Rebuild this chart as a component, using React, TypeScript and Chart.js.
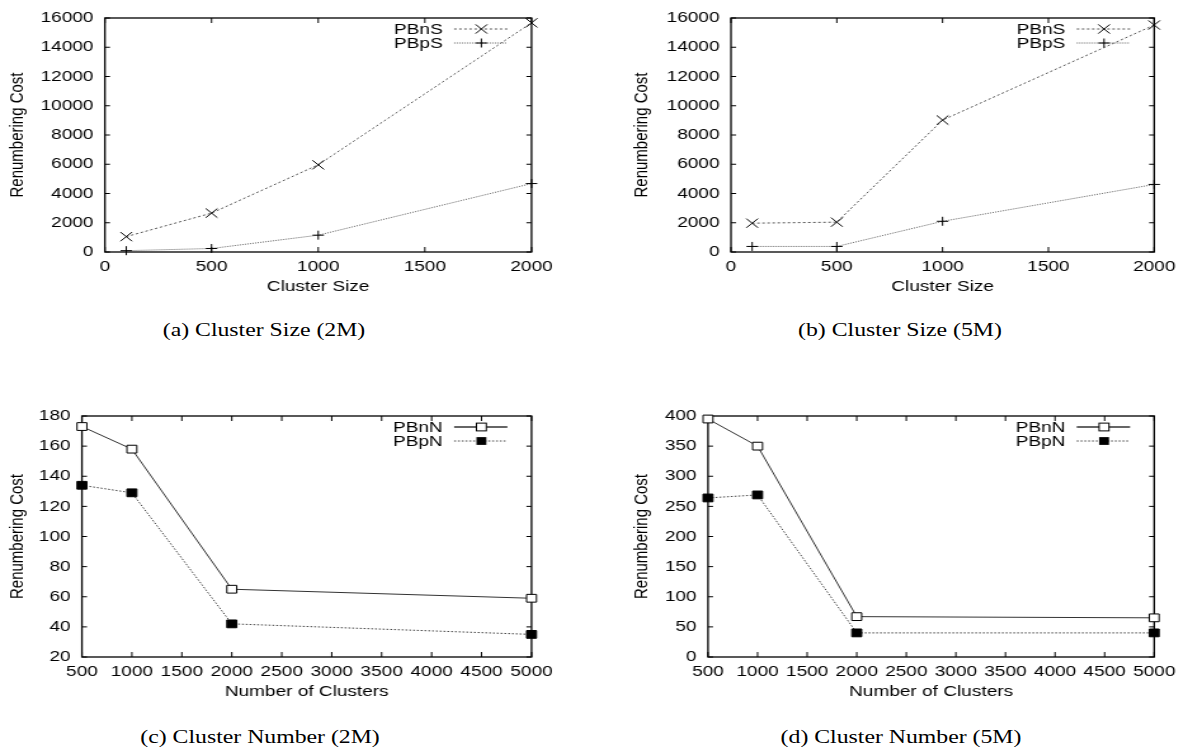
import React, { useEffect, useRef } from "react";
import { Chart, registerables } from "chart.js";

Chart.register(...registerables);

const S = 1.27; // horizontal stretch of the figure
const FONT = "'Liberation Sans', Arial, Helvetica, sans-serif";
const SERIF = "'Liberation Serif', 'Times New Roman', serif";
const FS = 15;

// ---- data ----
const clusterSizes = [100, 500, 1000, 2000];
const pbnS2M = [1050, 2660, 5960, 15670];
const pbpS2M = [90, 240, 1150, 4680];
const pbnS5M = [1970, 2040, 9020, 15520];
const pbpS5M = [380, 380, 2100, 4620];

const clusterNumbers = [500, 1000, 2000, 5000];
const pbnN2M = [173, 158, 65, 59];
const pbpN2M = [134, 129, 42, 35];
const pbnN5M = [395, 350, 67, 65];
const pbpN5M = [264, 269, 40, 40];

const captions = ["(a) Cluster Size (2M)", "(b) Cluster Size (5M)", "(c) Cluster Number (2M)", "(d) Cluster Number (5M)"];

type Marker = "cross" | "crossRot" | "rectOpen" | "rectFilled";
interface Series { label: string; values: number[]; color: string; dash: number[]; marker: Marker; radius: number; width: number; }
interface Panel {
  left: number; top: number; width: number; height: number;
  plotLeft: number; plotRight: number; plotTop: number; plotBottom: number;
  xTitleY: number; yTitleX: number;
  xs: number[]; series: Series[];
  xMin: number; xMax: number; xStep: number; yMin: number; yMax: number; yStep: number;
  xTitle: string; yTitle: string;
}

const sizeSeries = (n: number[], p: number[]): Series[] => [
  { label: "PBnS", values: n, color: "#555", dash: [2, 2], marker: "crossRot", radius: 6.5, width: 1 },
  { label: "PBpS", values: p, color: "#666", dash: [1, 1], marker: "cross", radius: 4.5, width: 1 },
];
const numSeries = (n: number[], p: number[]): Series[] => [
  { label: "PBnN", values: n, color: "#333", dash: [], marker: "rectOpen", radius: 5.5, width: 1 },
  { label: "PBpN", values: p, color: "#444", dash: [1.5, 1.5], marker: "rectFilled", radius: 5.5, width: 1 },
];

const panels: Panel[] = [
  { left: 0, top: 0, width: 590, height: 305, plotLeft: 105, plotRight: 532, plotTop: 10, plotBottom: 252, xTitleY: 287, yTitleX: 17,
    xs: clusterSizes, series: sizeSeries(pbnS2M, pbpS2M), xMin: 0, xMax: 2000, xStep: 500, yMin: 0, yMax: 16000, yStep: 2000,
    xTitle: "Cluster Size", yTitle: "Renumbering Cost" },
  { left: 590, top: 0, width: 593, height: 305, plotLeft: 731, plotRight: 1157, plotTop: 10, plotBottom: 252, xTitleY: 287, yTitleX: 642,
    xs: clusterSizes, series: sizeSeries(pbnS5M, pbpS5M), xMin: 0, xMax: 2000, xStep: 500, yMin: 0, yMax: 16000, yStep: 2000,
    xTitle: "Cluster Size", yTitle: "Renumbering Cost" },
  { left: 0, top: 395, width: 590, height: 310, plotLeft: 82, plotRight: 532, plotTop: 416, plotBottom: 657, xTitleY: 692, yTitleX: 17,
    xs: clusterNumbers, series: numSeries(pbnN2M, pbpN2M), xMin: 500, xMax: 5000, xStep: 500, yMin: 20, yMax: 180, yStep: 20,
    xTitle: "Number of Clusters", yTitle: "Renumbering Cost" },
  { left: 590, top: 395, width: 593, height: 310, plotLeft: 708, plotRight: 1157, plotTop: 416, plotBottom: 657, xTitleY: 692, yTitleX: 642,
    xs: clusterNumbers, series: numSeries(pbnN5M, pbpN5M), xMin: 500, xMax: 5000, xStep: 500, yMin: 0, yMax: 400, yStep: 50,
    xTitle: "Number of Clusters", yTitle: "Renumbering Cost" },
];

function drawMarker(ctx: CanvasRenderingContext2D, m: Marker, x: number, y: number, r: number) {
  ctx.save();
  ctx.setLineDash([]);
  ctx.strokeStyle = "#000";
  ctx.lineWidth = 1;
  if (m === "cross") {
    ctx.beginPath(); ctx.moveTo(x - r, y); ctx.lineTo(x + r, y); ctx.moveTo(x, y - r); ctx.lineTo(x, y + r); ctx.stroke();
  } else if (m === "crossRot") {
    const d = r * Math.SQRT1_2;
    ctx.beginPath(); ctx.moveTo(x - d, y - d); ctx.lineTo(x + d, y + d); ctx.moveTo(x - d, y + d); ctx.lineTo(x + d, y - d); ctx.stroke();
  } else {
    const d = r * Math.SQRT1_2;
    if (m === "rectFilled") { ctx.fillStyle = "#000"; ctx.fillRect(x - d, y - d, 2 * d, 2 * d); }
    else { ctx.fillStyle = "#fff"; ctx.fillRect(x - d, y - d, 2 * d, 2 * d); ctx.strokeRect(x - d, y - d, 2 * d, 2 * d); }
  }
  ctx.restore();
}

const framePlugin = {
  id: "gpFrame",
  beforeDatasetsDraw(chart: any) {
    const { ctx, chartArea, scales } = chart;
    const { left, right, top, bottom } = chartArea;
    ctx.save();
    ctx.strokeStyle = "#000";
    ctx.lineWidth = 1;
    ctx.beginPath();
    scales.x.ticks.forEach((t: any) => {
      const px = scales.x.getPixelForValue(t.value);
      ctx.moveTo(px, bottom); ctx.lineTo(px, bottom - 5);
      ctx.moveTo(px, top); ctx.lineTo(px, top + 5);
    });
    scales.y.ticks.forEach((t: any) => {
      const py = scales.y.getPixelForValue(t.value);
      ctx.moveTo(left, py); ctx.lineTo(left + 4, py);
      ctx.moveTo(right, py); ctx.lineTo(right - 4, py);
    });
    ctx.stroke();
    ctx.lineWidth = 1.3;
    ctx.strokeRect(left, top, right - left, bottom - top);
    ctx.restore();
  },
};

const legendPlugin = {
  id: "gpLegend",
  afterDraw(chart: any) {
    const { ctx, chartArea } = chart;
    const series: Series[] = chart.options.plugins.gpLegend.series;
    series.forEach((s, i) => {
      const y = chartArea.top + 11 + i * 14;
      ctx.save();
      ctx.font = `${FS}px ${FONT}`;
      ctx.fillStyle = "#000";
      ctx.textAlign = "right";
      ctx.textBaseline = "middle";
      ctx.fillText(s.label, chartArea.right - 70, y + 1);
      ctx.strokeStyle = s.color;
      ctx.lineWidth = s.dash.length ? 1 : 1.4;
      ctx.setLineDash(s.dash);
      ctx.beginPath();
      ctx.moveTo(chartArea.right - 61, y);
      ctx.lineTo(chartArea.right - 19, y);
      ctx.stroke();
      ctx.restore();
      drawMarker(ctx, s.marker, chartArea.right - 39.5, y, s.radius);
    });
  },
};

function PanelChart({ p }: { p: Panel }) {
  const ref = useRef<HTMLCanvasElement | null>(null);
  const cw = Math.round(p.width / S);
  const ch = p.height;
  useEffect(() => {
    if (!ref.current) return;
    const cLeft = (p.plotLeft - p.left) / S;
    const cRight = (p.plotRight - p.left) / S;
    const cTop = p.plotTop - p.top;
    const cBottom = p.plotBottom - p.top;
    const titleLH = FS * 1.2;
    const xTitlePad = ch - (p.xTitleY - p.top) - titleLH / 2;
    const yTitlePad = (p.yTitleX - p.left) / S - titleLH / 2;
    const chart = new Chart(ref.current, {
      type: "line",
      data: {
        datasets: p.series.map((s) => ({
          label: s.label,
          data: p.xs.map((x, i) => ({ x, y: s.values[i] })),
          borderColor: s.color,
          borderWidth: s.width,
          borderDash: s.dash,
          tension: 0,
          fill: false,
          clip: false as any,
          pointStyle: s.marker === "cross" ? "cross" : s.marker === "crossRot" ? "crossRot" : "rect",
          pointRadius: s.radius,
          pointHoverRadius: s.radius,
          pointBorderColor: "#000",
          pointBorderWidth: 1,
          pointBackgroundColor: s.marker === "rectFilled" ? "#000" : "#fff",
        })),
      },
      options: {
        animation: false,
        responsive: false,
        devicePixelRatio: 1,
        events: [],
        layout: { padding: { left: 0, top: cTop, right: cw - cRight, bottom: 0 } },
        plugins: {
          legend: { display: false },
          tooltip: { enabled: false },
          gpLegend: { series: p.series },
        } as any,
        scales: {
          x: {
            type: "linear",
            min: p.xMin,
            max: p.xMax,
            grid: { display: false, drawTicks: false },
            border: { display: false },
            ticks: { stepSize: p.xStep, padding: 6, color: "#000", font: { family: FONT, size: FS }, maxRotation: 0, autoSkip: false,
              callback: (v: any) => String(v) },
            title: { display: true, text: p.xTitle, color: "#000", font: { family: FONT, size: FS }, padding: { top: 0, bottom: xTitlePad } },
            afterFit: (s: any) => { s.height = ch - cBottom; },
          },
          y: {
            type: "linear",
            min: p.yMin,
            max: p.yMax,
            grid: { display: false, drawTicks: false },
            border: { display: false },
            ticks: { stepSize: p.yStep, padding: 9, color: "#000", font: { family: FONT, size: FS }, callback: (v: any) => String(v) },
            title: { display: true, text: p.yTitle, color: "#000", font: { family: FONT, size: FS }, padding: { top: yTitlePad, bottom: 0 } },
            afterFit: (s: any) => { s.width = cLeft; },
          },
        },
      },
      plugins: [framePlugin, legendPlugin],
    } as any);
    return () => chart.destroy();
  }, []);
  return (
    <div style={{ position: "absolute", left: p.left, top: p.top, width: cw, height: ch, transform: `scaleX(${p.width / cw})`, transformOrigin: "0 0" }}>
      <canvas ref={ref} width={cw} height={ch} style={{ display: "block" }} />
    </div>
  );
}

const captionPos = [
  { x: 264, y: 330 },
  { x: 900, y: 330 },
  { x: 260, y: 737 },
  { x: 901, y: 737 },
];

export default function App() {
  return (
    <div style={{ position: "absolute", left: 0, top: 0, width: 1183, height: 755, background: "#fff", overflow: "hidden" }}>
      {panels.map((p, i) => <PanelChart key={i} p={p} />)}
      {captions.map((c, i) => (
        <div key={c} style={{ position: "absolute", left: captionPos[i].x - 200, top: captionPos[i].y - 12, width: 400, height: 24, lineHeight: "24px",
          textAlign: "center", fontFamily: SERIF, fontSize: 19, color: "#000", transform: "scaleX(1.25)", transformOrigin: "50% 50%", whiteSpace: "nowrap" }}>
          {c}
        </div>
      ))}
    </div>
  );
}
